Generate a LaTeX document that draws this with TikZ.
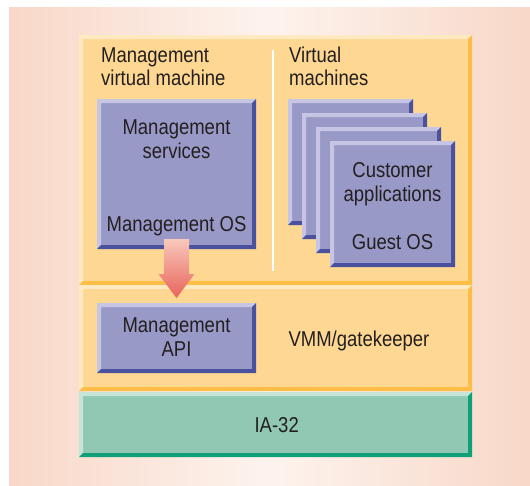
\documentclass[tikz,border=0pt]{standalone}
\usepackage{fontspec}
\setmainfont{Liberation Sans}[FakeStretch=0.86]
\usetikzlibrary{calc}

\definecolor{peach}{RGB}{248,216,200}
\definecolor{peachlight}{RGB}{253,243,238}
\definecolor{ylfill}{RGB}{254,215,146}
\definecolor{yllight}{RGB}{254,233,192}
\definecolor{yldark}{RGB}{252,190,70}
\definecolor{pufill}{RGB}{153,153,200}
\definecolor{pulight}{RGB}{198,198,228}
\definecolor{pudark}{RGB}{74,82,160}
\definecolor{grfill}{RGB}{145,200,180}
\definecolor{grlight}{RGB}{198,229,216}
\definecolor{grdark}{RGB}{16,160,120}
\definecolor{ink}{RGB}{35,31,32}
\definecolor{arrtop}{RGB}{249,200,188}
\definecolor{arrbot}{RGB}{232,100,90}

% bevelled panel: light rim on top/left, dark rim on right/bottom
\newcommand\bevelrim[4]{%
  \fill[#2] (#1.north west) -- (#1.north east) -- ($(#1.north east)+(-#4,-#4)$)
    -- ($(#1.north west)+(#4,-#4)$) -- ($(#1.south west)+(#4,#4)$) -- (#1.south west) -- cycle;
  \fill[#3] (#1.north east) -- (#1.south east) -- (#1.south west)
    -- ($(#1.south west)+(#4,#4)$) -- ($(#1.south east)+(-#4,#4)$)
    -- ($(#1.north east)+(-#4,-#4)$) -- cycle;
}

\tikzset{
  panel/.style={rectangle, inner sep=0pt, outer sep=0pt},
  yl/.style={panel, fill=ylfill},
  pu/.style={panel, fill=pufill, minimum width=159pt},
  vm/.style={panel, fill=pufill, minimum width=125pt, minimum height=126pt},
  gr/.style={panel, fill=grfill},
  label/.style={inner sep=0pt, text=ink, font=\fontsize{21.5}{23.5}\selectfont}
}

\begin{document}
\begin{tikzpicture}[x=1pt, y=-1pt]
\useasboundingbox (0,0) rectangle (530,485);
% backdrop
\shade[left color=peach, right color=peach, middle color=peachlight] (9,7) rectangle (530,485);

% layers
\node[yl, minimum width=393pt, minimum height=250pt] (guests) at (275.5,160) {};
\bevelrim{guests}{yllight}{yldark}{4pt}
\node[yl, minimum width=393pt, minimum height=106pt] (vmm) at (275.5,338) {};
\bevelrim{vmm}{yllight}{yldark}{4pt}
\node[gr, minimum width=393pt, minimum height=65pt] (hw) at (275.5,424.5) {};
\bevelrim{hw}{grlight}{grdark}{4pt}

% separator between management VM and customer VMs
\coordinate (septop) at (273,50);
\coordinate (sepbot) at (273,271);
\draw[white, line width=2pt] (septop) -- (sepbot);

% management virtual machine
\node[pu, minimum height=150pt] (mgmt) at (176.5,174) {};
\bevelrim{mgmt}{pulight}{pudark}{4pt}

% stacked customer virtual machines
\node[vm] (vm1) at (350.5,162) {};
\bevelrim{vm1}{pulight}{pudark}{4pt}
\node[vm] (vm2) at (364.5,176) {};
\bevelrim{vm2}{pulight}{pudark}{4pt}
\node[vm] (vm3) at (378.5,190) {};
\bevelrim{vm3}{pulight}{pudark}{4pt}
\node[vm] (vm4) at (392.5,204) {};
\bevelrim{vm4}{pulight}{pudark}{4pt}

% management API
\node[pu, minimum height=70pt] (api) at (176.5,338) {};
\bevelrim{api}{pulight}{pudark}{4pt}

% block arrow from management OS to the API
\coordinate (arrowstart) at ($(mgmt.south)+(0pt,10pt)$);
\coordinate (arrowtip) at ($(api.north)+(0pt,5pt)$);
\shade[top color=arrtop, bottom color=arrbot]
  ($(arrowstart)+(-12.5pt,0pt)$) -- ($(arrowstart)+(12.5pt,0pt)$)
  -- ($(arrowtip)+(12.5pt,24pt)$) -- ($(arrowtip)+(18pt,24pt)$)
  -- (arrowtip)
  -- ($(arrowtip)+(-18pt,24pt)$) -- ($(arrowtip)+(-12.5pt,24pt)$) -- cycle;

% texts
\node[label, anchor=west, align=left] (mvmlabel) at (101,66.5) {Management\\virtual machine};
\node[label, anchor=west, align=left] (vmlabel) at (289,66.5) {Virtual\\machines};
\node[label, align=center] (svc) at (176.5,139) {Management\\services};
\node[label, anchor=base] (mos) at (176.5,231) {Management OS};
\node[label, align=center] (apps) at (392.5,184.3) {Customer\\applications};
\node[label, anchor=base] (gos) at (392.5,249) {Guest OS};
\node[label, align=center] (apitext) at (176.5,337) {Management\\API};
\node[label, anchor=base] (vmmtext) at (359,346.7) {VMM/gatekeeper};
\node[label, anchor=base] (hwtext) at (276.7,432.7) {IA-32};
\end{tikzpicture}
\end{document}
